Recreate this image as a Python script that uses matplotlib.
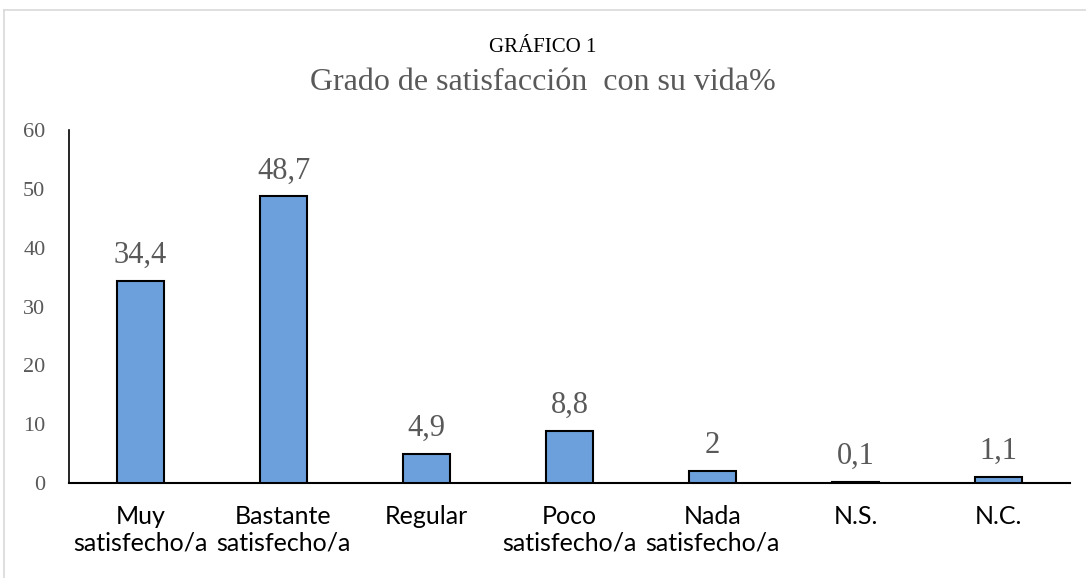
import matplotlib.pyplot as plt
from matplotlib.lines import Line2D

# Datos
categorias = ['Muy\nsatisfecho/a', 'Bastante\nsatisfecho/a', 'Regular',
              'Poco\nsatisfecho/a', 'Nada\nsatisfecho/a', 'N.S.', 'N.C.']
valores = [34.4, 48.7, 4.9, 8.8, 2, 0.1, 1.1]
etiquetas = ['34,4', '48,7', '4,9', '8,8', '2', '0,1', '1,1']
yticks = [0, 10, 20, 30, 40, 50, 60]

gris = '#595959'
azul = '#6CA0DC'

fig = plt.figure(figsize=(10.86, 5.78), dpi=100)

# marco del gráfico
fig.add_artist(Line2D([4 / 1086, 4 / 1086], [0, 1 - 10 / 578], color='#D9D9D9', lw=1.2))
fig.add_artist(Line2D([4 / 1086, 1], [1 - 10 / 578, 1 - 10 / 578], color='#D9D9D9', lw=1.2))

ax = fig.add_axes([69 / 1086, 1 - 483 / 578, (1070 - 69) / 1086, (483 - 130) / 578])
x = range(len(categorias))
ax.bar(x, valores, width=0.33, color=azul, edgecolor='black', linewidth=1.5, zorder=3)

for i, (v, t) in enumerate(zip(valores, etiquetas)):
    ax.annotate(t, (i, v), xytext=(0, 8), textcoords='offset points',
                ha='center', va='bottom', fontsize=22, color=gris,
                family='Liberation Serif')

ax.set_xlim(-0.5, len(categorias) - 0.5)
ax.set_ylim(0, 60)
ax.set_yticks(yticks)
ax.set_yticklabels([str(t) for t in yticks], family='Liberation Serif', fontsize=16, color=gris)
ax.set_xticks(list(x))
ax.set_xticklabels(categorias, family='Lato', fontsize=18, color='black', linespacing=1.15)
ax.tick_params(axis='both', length=0)
ax.tick_params(axis='y', pad=17)
ax.tick_params(axis='x', pad=16)
for s in ['top', 'right']:
    ax.spines[s].set_visible(False)
ax.spines['left'].set_color('black')
ax.spines['left'].set_linewidth(1.2)
ax.spines['bottom'].set_color('black')
ax.spines['bottom'].set_linewidth(1.5)

fig.text(0.5, 1 - 47 / 578, 'GRÁFICO 1', ha='center', va='center',
         family='Liberation Serif', fontsize=15, color='black')
fig.text(0.5, 1 - 82 / 578, 'Grado de satisfacción  con su vida%', ha='center', va='center',
         family='Liberation Serif', fontsize=23, color=gris)

fig.savefig('out.png', dpi=100)
